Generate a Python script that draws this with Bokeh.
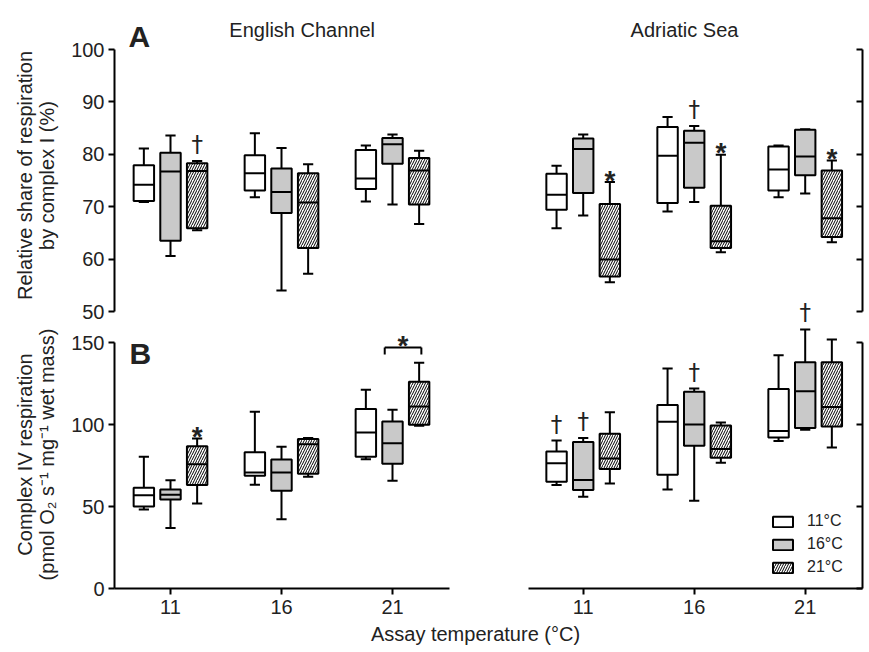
import math
from bokeh.plotting import figure
from bokeh.models import Range1d, FixedTicker, Legend, LegendItem, ColumnDataSource
from bokeh.layouts import column, row
from bokeh.embed import file_html
from bokeh.resources import INLINE
from bokeh.core.properties import value

# ---------------- data ----------------
assay_temps = [11, 16, 21]
acclimation = ["11°C", "16°C", "21°C"]
sites = ["English Channel", "Adriatic Sea"]
# order of 9 values: assay 11 (accl 11,16,21), assay 16 (accl 11,16,21), assay 21 (accl 11,16,21)

# Panel A: relative share of respiration by complex I (%)
a_ec_min = [70.9, 60.6, 65.5, 71.8, 54.0, 57.2, 71.0, 70.4, 66.7]
a_ec_q1 = [71.1, 63.5, 65.9, 73.1, 68.8, 62.1, 73.4, 78.2, 70.4]
a_ec_med = [74.2, 76.7, 76.8, 76.4, 72.8, 70.8, 75.4, 81.9, 76.9]
a_ec_q3 = [77.9, 80.3, 78.3, 79.8, 77.3, 76.4, 80.8, 83.1, 79.3]
a_ec_max = [81.1, 83.6, 78.7, 84.0, 81.2, 78.1, 81.7, 83.8, 80.7]

a_ad_min = [65.9, 68.3, 55.6, 69.1, 70.9, 61.3, 71.8, 72.5, 63.2]
a_ad_q1 = [69.4, 72.6, 56.7, 70.7, 73.6, 62.1, 73.1, 76.0, 64.2]
a_ad_med = [72.3, 81.0, 59.9, 79.7, 82.2, 63.4, 77.1, 79.6, 67.8]
a_ad_q3 = [76.3, 83.0, 70.5, 85.2, 84.5, 70.2, 81.5, 84.7, 76.9]
a_ad_max = [77.8, 83.8, 74.7, 87.1, 85.4, 79.9, 81.7, 84.8, 78.8]

# Panel B: complex IV respiration (pmol O2 s-1 mg-1 wet mass)
b_ec_min = [48.2, 36.9, 51.9, 63.3, 42.3, 68.2, 78.8, 65.7, 99.2]
b_ec_q1 = [50.0, 54.3, 63.1, 68.8, 59.6, 70.0, 80.4, 76.1, 99.8]
b_ec_med = [56.9, 57.1, 75.7, 70.8, 70.8, 88.0, 95.1, 88.6, 111.0]
b_ec_q3 = [61.4, 60.4, 86.8, 83.1, 78.6, 91.1, 109.4, 101.8, 126.0]
b_ec_max = [80.4, 66.0, 91.4, 107.8, 86.5, 91.7, 121.2, 109.0, 137.6]

b_ad_min = [63.1, 55.9, 64.1, 60.4, 53.5, 76.7, 90.0, 96.8, 85.9]
b_ad_q1 = [65.1, 60.0, 72.9, 69.4, 87.0, 79.8, 92.0, 97.8, 98.8]
b_ad_med = [76.3, 66.1, 79.2, 101.7, 100.0, 85.1, 96.1, 120.2, 110.7]
b_ad_q3 = [83.5, 89.4, 94.3, 111.9, 120.0, 99.4, 121.7, 138.0, 138.0]
b_ad_max = [90.2, 91.7, 107.4, 134.1, 121.9, 101.2, 142.3, 158.0, 151.9]

# significance symbols (panel, site index, box index, symbol)
sig_panel = ["A", "A", "A", "A", "A", "B", "B", "B", "B", "B"]
sig_site = [0, 1, 1, 1, 1, 0, 1, 1, 1, 1]
sig_index = [2, 2, 5, 8, 4, 2, 0, 1, 4, 7]
sig_symbol = ["†", "*", "*", "*", "†", "*", "†", "†", "†", "†"]
# bracket (panel B, English Channel) between boxes 7 and 8
bracket_boxes = [7, 8]
bracket_level = 147.0

y_title_a = ["Relative share of respiration", "by complex I (%)"]
y_title_b = ["Complex IV respiration", "(pmol O\u2082 s\u207b\u00b9 mg\u207b\u00b9 wet mass)"]
x_title = "Assay temperature (°C)"

# ---------------- styling / geometry ----------------
FONT = "Liberation Sans"
TEXT = "#222222"
GRAY = "#c9c9c9"
OFFSETS = [-1.2, 0.0, 1.2]
BOX_W = 0.92
CAP_W = 0.46
FILLS = ["white", GRAY, "white"]
HATCH = [None, None, "/"]

PX_X = 22.2      # px per assay-temperature unit
A_PX = 5.24      # px per % in panel A
B_PX = 1.64      # px per unit in panel B

YLAB_W = 62
LEFT_FW, RIGHT_FW = 335, 334
A_FH, B_FH = 325, 263
B_BOTTOM = 34
TITLE_H = 24
A_TOP_GAP = 49   # px from frame top to the 100 % tick

xl_start = 11 - 56 / PX_X
xl_range = (xl_start, xl_start + LEFT_FW / PX_X)
xr_start = 11 - 54.7 / PX_X
xr_range = (xr_start, xr_start + RIGHT_FW / PX_X)
a_top = 100 + A_TOP_GAP / A_PX
a_range = (a_top - A_FH / A_PX, a_top)
b_range = (0, B_FH / B_PX)
b_ext_range = (B_FH / B_PX, (B_FH + A_FH) / B_PX)   # panel-B scale continued upwards


def box_x(i):
    return assay_temps[i // 3] + OFFSETS[i % 3]


def base_fig(xr, yr, fw, fh, xloc, yloc, **b):
    p = figure(frame_width=fw, frame_height=fh, x_range=Range1d(*xr), y_range=Range1d(*yr),
               output_backend="svg", toolbar_location=None, min_border=0,
               x_axis_location=xloc, y_axis_location=yloc, **b)
    p.outline_line_color = None
    p.grid.visible = False
    return p


def style_axis(ax, ticks, bounds, labels=True, inward=False, standoff=4):
    ax.ticker = FixedTicker(ticks=ticks)
    if bounds is not None:
        ax.bounds = bounds
    ax.axis_line_width = 2
    ax.axis_line_color = "black"
    ax.major_tick_line_width = 2
    ax.major_tick_line_color = "black"
    ax.minor_tick_line_color = None
    ax.major_tick_out = 0 if inward else 6
    ax.major_tick_in = 6 if inward else 0
    ax.major_label_text_font = FONT
    ax.major_label_text_font_size = "20px"
    if labels:
        ax.major_label_text_color = TEXT
        ax.major_label_standoff = standoff
    else:
        ax.major_label_overrides = {t: "" for t in ticks}
        ax.major_label_text_color = None
        ax.major_label_standoff = 0


def draw_boxes(p, mn, q1, md, q3, mx):
    rends = []
    for g in range(3):
        idx = [k * 3 + g for k in range(3)]
        xs = [box_x(i) for i in idx]
        src = ColumnDataSource(dict(
            x=xs,
            xl=[x - BOX_W / 2 for x in xs], xr=[x + BOX_W / 2 for x in xs],
            cl=[x - CAP_W / 2 for x in xs], cr=[x + CAP_W / 2 for x in xs],
            mn=[mn[i] for i in idx], q1=[q1[i] for i in idx], md=[md[i] for i in idx],
            q3=[q3[i] for i in idx], mx=[mx[i] for i in idx]))
        lk = dict(source=src, line_color="black", line_width=2)
        p.segment(x0="x", y0="mn", x1="x", y1="q1", **lk)
        p.segment(x0="x", y0="q3", x1="x", y1="mx", **lk)
        p.segment(x0="cl", y0="mn", x1="cr", y1="mn", **lk)
        p.segment(x0="cl", y0="mx", x1="cr", y1="mx", **lk)
        kw = dict(fill_color=FILLS[g], line_color="black", line_width=2)
        if HATCH[g]:
            kw.update(hatch_pattern=HATCH[g], hatch_color="black", hatch_weight=1, hatch_scale=5)
        r = p.vbar(x="x", width=BOX_W, bottom="q1", top="q3", source=src, **kw)
        p.segment(x0="xl", y0="md", x1="xr", y1="md", **lk)
        rends.append(r)
    return rends


def sym_text(p, xs, ys, sym, **extra):
    if sym == "†":
        p.text(x=xs, y=ys, text=[sym] * len(xs), text_align="center", text_baseline="alphabetic",
               y_offset=-17, text_font=value("DejaVu Sans"), text_font_size="23px",
               text_color=TEXT, **extra)
    else:
        p.text(x=xs, y=ys, text=[sym] * len(xs), text_align="center", text_baseline="alphabetic",
               y_offset=-2, text_font=value(FONT), text_font_size="28px",
               text_font_style="bold", text_color=TEXT, **extra)


def draw_sig(p, panel, site, mx, p_above=None, limit=None):
    for sym in ("†", "*"):
        xs, ys, xs2, ys2 = [], [], [], []
        for pa, s, i, sy in zip(sig_panel, sig_site, sig_index, sig_symbol):
            if pa != panel or s != site or sy != sym:
                continue
            if limit is not None and mx[i] > limit:
                xs2.append(box_x(i)); ys2.append(mx[i])
            else:
                xs.append(box_x(i)); ys.append(mx[i])
        if xs:
            sym_text(p, xs, ys, sym)
        if xs2 and p_above is not None:
            sym_text(p_above, xs2, ys2, sym, y_range_name="bext")


def label(p, x, y, txt, size, bold=False, align="left"):
    p.text(x=[x], y=[y], text=[txt], text_align=align, text_baseline="alphabetic",
           text_font=value(FONT), text_font_size=size,
           text_font_style="bold" if bold else "normal", text_color=TEXT)


# ---------------- panel A ----------------
pa1 = base_fig(xl_range, a_range, LEFT_FW, A_FH, None, "left",
               min_border_left=52, min_border_right=79)
style_axis(pa1.yaxis[0], [50, 60, 70, 80, 90, 100], (50, 100))
draw_boxes(pa1, a_ec_min, a_ec_q1, a_ec_med, a_ec_q3, a_ec_max)
draw_sig(pa1, "A", 0, a_ec_max)
label(pa1, 11 - 42 / PX_X, 100 + 13.5 / A_PX, "A", "30px", bold=True)
label(pa1, 16 + 20.7 / PX_X, 100 + 20 / A_PX, sites[0], "20px", align="center")

pa2 = base_fig(xr_range, a_range, RIGHT_FW, A_FH, None, "right", min_border_right=2)
pa2.extra_y_ranges = {"bext": Range1d(*b_ext_range)}
style_axis(pa2.yaxis[0], [50, 60, 70, 80, 90, 100], (50, 100), labels=False, inward=True)
draw_boxes(pa2, a_ad_min, a_ad_q1, a_ad_med, a_ad_q3, a_ad_max)
draw_sig(pa2, "A", 1, a_ad_max)
label(pa2, 16 - 9.7 / PX_X, 100 + 20 / A_PX, sites[1], "20px", align="center")

# ---------------- panel B ----------------
pb1 = base_fig(xl_range, b_range, LEFT_FW, B_FH, "below", "left",
               min_border_left=52, min_border_right=79, min_border_bottom=B_BOTTOM)
style_axis(pb1.yaxis[0], [0, 50, 100, 150], (0, 150))
style_axis(pb1.xaxis[0], assay_temps, None, standoff=5)
draw_boxes(pb1, b_ec_min, b_ec_q1, b_ec_med, b_ec_q3, b_ec_max)
draw_sig(pb1, "B", 0, b_ec_max)
label(pb1, 11 - 41 / PX_X, 143.5, "B", "30px", bold=True)
bx0 = box_x(bracket_boxes[0]) - 0.35
bx1 = box_x(bracket_boxes[1]) + 0.1
leg = 4.3
pb1.segment(x0=[bx0, bx0, bx1], y0=[bracket_level - leg, bracket_level, bracket_level],
            x1=[bx0, bx1, bx1], y1=[bracket_level, bracket_level, bracket_level - leg],
            line_color="black", line_width=2)
sym_text(pb1, [(bx0 + bx1) / 2], [bracket_level], "*")

pb2 = base_fig(xr_range, b_range, RIGHT_FW, B_FH, "below", "right",
               min_border_right=2, min_border_bottom=B_BOTTOM)
style_axis(pb2.yaxis[0], [0, 50, 100, 150], (0, 150), labels=False, inward=True)
style_axis(pb2.xaxis[0], assay_temps, None, standoff=5)
rends = draw_boxes(pb2, b_ad_min, b_ad_q1, b_ad_med, b_ad_q3, b_ad_max)
draw_sig(pb2, "B", 1, b_ad_max, p_above=pa2, limit=145.0)
legend = Legend(items=[LegendItem(label=acclimation[g], renderers=[rends[g]]) for g in range(3)],
                location=(242, 11), glyph_width=25, glyph_height=13, label_standoff=12,
                label_text_font=FONT, label_text_font_size="16px", label_text_color=TEXT,
                label_height=20, spacing=3, padding=0, margin=0,
                border_line_color=None, background_fill_alpha=0)
pb2.add_layout(legend)

# ---------------- y titles (one strip spanning both panels) ----------------
YH = A_FH + B_FH + B_BOTTOM
ylab = figure(width=YLAB_W, height=YH, x_range=Range1d(0, YLAB_W), y_range=Range1d(0, YH),
              output_backend="svg", toolbar_location=None, min_border=0,
              x_axis_location=None, y_axis_location=None)
ylab.outline_line_color = None
ylab.grid.visible = False
ylab.text(x=[24, 46], y=[YH - 175, YH - 175], text=y_title_a, angle=math.pi / 2,
          text_align="center", text_baseline="middle", text_font=value(FONT),
          text_font_size="20px", text_color=TEXT)
ylab.text(x=[24, 46], y=[YH - 454, YH - 454], text=y_title_b, angle=math.pi / 2,
          text_align="center", text_baseline="middle", text_font=value(FONT),
          text_font_size="20px", text_color=TEXT)

# ---------------- x title ----------------
TW = YLAB_W + 52 + LEFT_FW + 79 + RIGHT_FW + 2
pt = figure(width=TW, height=TITLE_H, x_range=Range1d(0, TW), y_range=Range1d(0, TITLE_H),
            output_backend="svg", toolbar_location=None, min_border=0,
            x_axis_location=None, y_axis_location=None)
pt.outline_line_color = None
pt.grid.visible = False
pt.text(x=[475], y=[TITLE_H - 11], text=[x_title], text_align="center",
        text_baseline="middle", text_font=value(FONT), text_font_size="20px", text_color=TEXT)

panels = column(row(pa1, pa2), row(pb1, pb2))
layout = column(row(ylab, panels), pt)
open("out.html", "w").write(file_html(layout, INLINE))
